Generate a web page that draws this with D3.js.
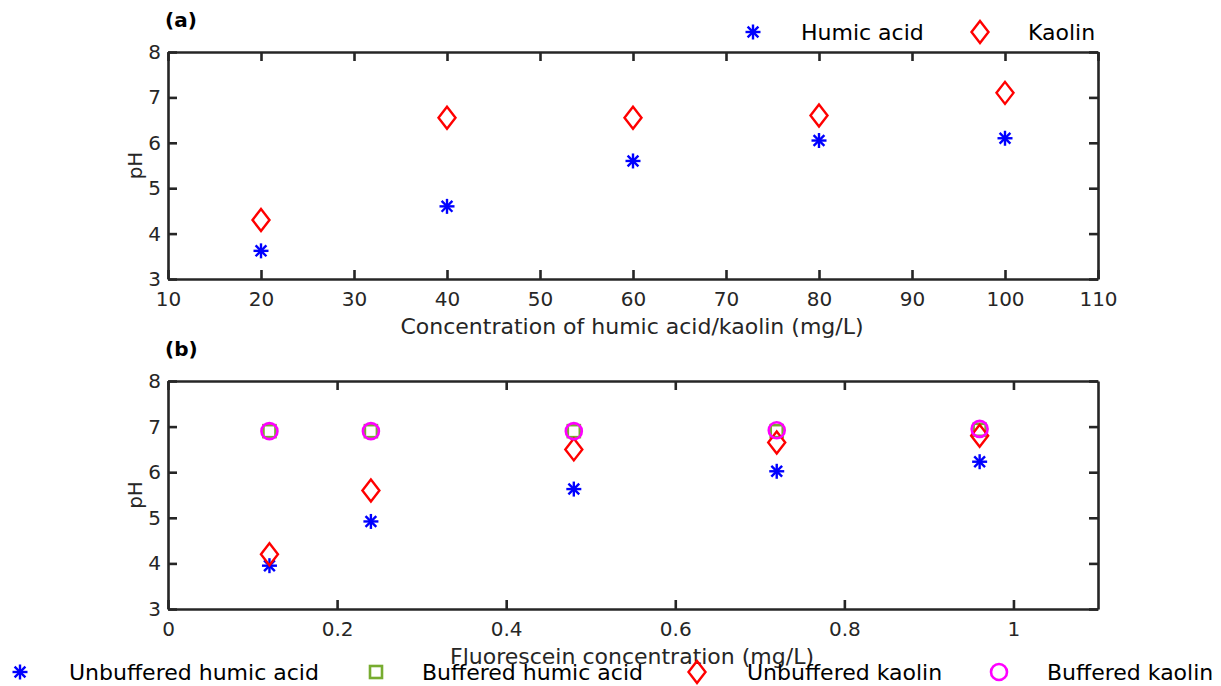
<!DOCTYPE html>
<html>
<head>
<meta charset="utf-8">
<script src="https://cdn.jsdelivr.net/npm/d3@7"></script>
<style>
  body { margin: 0; background: #fff; }
  text { font-family: "DejaVu Sans", sans-serif; }
</style>
</head>
<body>
<svg id="chart" width="1221" height="686"></svg>
<script>
// panel (a)
const concA = [20, 40, 60, 80, 100];
const humicA = [3.62, 4.6, 5.6, 6.05, 6.1];
const kaolinA = [4.3, 6.55, 6.55, 6.6, 7.1];
const ticksXA = [10, 20, 30, 40, 50, 60, 70, 80, 90, 100, 110];

// panel (b)
const concB = [0.12, 0.24, 0.48, 0.72, 0.96];
const unbufHumicB = [3.95, 4.92, 5.63, 6.02, 6.23];
const bufHumicB = [6.9, 6.9, 6.9, 6.9, 6.93];
const unbufKaolinB = [4.2, 5.6, 6.5, 6.65, 6.8];
const bufKaolinB = [6.9, 6.9, 6.9, 6.92, 6.95];
const ticksXB = [0, 0.2, 0.4, 0.6, 0.8, 1];
const ticksY = [3, 4, 5, 6, 7, 8];

const svg = d3.select("#chart");
const axisColor = "#262626";

function star(g, x, y, color) {
  const s = 7.5;
  const p = g.append("g").attr("transform", "translate(" + x + "," + y + ")")
    .attr("stroke", color).attr("stroke-width", 2.4);
  p.append("line").attr("x1", -s).attr("x2", s).attr("y1", 0).attr("y2", 0);
  p.append("line").attr("x1", 0).attr("x2", 0).attr("y1", -s).attr("y2", s);
  const d = s * 0.72;
  p.append("line").attr("x1", -d).attr("x2", d).attr("y1", -d).attr("y2", d);
  p.append("line").attr("x1", -d).attr("x2", d).attr("y1", d).attr("y2", -d);
}
function diamond(g, x, y, color) {
  g.append("path")
    .attr("d", "M" + x + "," + (y - 11) + "L" + (x + 8.5) + "," + y + "L" + x + "," + (y + 11) + "L" + (x - 8.5) + "," + y + "Z")
    .attr("fill", "none").attr("stroke", color).attr("stroke-width", 2.4);
}
function square(g, x, y, color) {
  g.append("rect").attr("x", x - 6).attr("y", y - 6).attr("width", 12).attr("height", 12)
    .attr("fill", "none").attr("stroke", color).attr("stroke-width", 2.6);
}
function circle(g, x, y, color) {
  g.append("circle").attr("cx", x).attr("cy", y).attr("r", 8)
    .attr("fill", "none").attr("stroke", color).attr("stroke-width", 2.6);
}

function panel(top, bottom, xDomain, xTicks, xFmt, label, xLabel, series) {
  const left = 168, right = 1098;
  const x = d3.scaleLinear().domain(xDomain).range([left, right]);
  const y = d3.scaleLinear().domain([3, 8]).range([bottom, top]);
  const g = svg.append("g");

  const gx = g.append("g").attr("transform", "translate(0," + bottom + ")")
    .call(d3.axisBottom(x).tickValues(xTicks).tickFormat(xFmt).tickSizeInner(-9).tickSizeOuter(0).tickPadding(13));
  const gxt = g.append("g").attr("transform", "translate(0," + top + ")")
    .call(d3.axisTop(x).tickValues(xTicks).tickFormat("").tickSizeInner(-9).tickSizeOuter(0));
  const gy = g.append("g").attr("transform", "translate(" + left + ",0)")
    .call(d3.axisLeft(y).tickValues(ticksY).tickFormat(d3.format("d")).tickSizeInner(-9).tickSizeOuter(0).tickPadding(7));
  const gyr = g.append("g").attr("transform", "translate(" + right + ",0)")
    .call(d3.axisRight(y).tickValues(ticksY).tickFormat("").tickSizeInner(-9).tickSizeOuter(0));
  [gx, gxt, gy, gyr].forEach(a => {
    a.selectAll("path.domain").attr("stroke", axisColor).attr("stroke-width", 2.6);
    a.selectAll(".tick line").attr("stroke", axisColor).attr("stroke-width", 2.6);
    a.selectAll(".tick text").attr("fill", axisColor).style("font-size", "20px")
      .style("font-family", "'DejaVu Sans', sans-serif");
  });

  g.append("text").attr("x", 165).attr("y", top - 25).style("font-size", "20px")
    .style("font-weight", "bold").attr("fill", "#000").text(label);
  g.append("text").attr("transform", "translate(142," + ((top + bottom) / 2) + ") rotate(-90)")
    .attr("text-anchor", "middle").style("font-size", "20px").attr("fill", axisColor).text("pH");
  g.append("text").attr("x", 632).attr("y", bottom + 55)
    .attr("text-anchor", "middle").style("font-size", "22px").attr("fill", axisColor).text(xLabel);

  series.forEach(s => {
    s.values.forEach((v, i) => s.draw(g, x(s.xs[i]), y(v), s.color));
  });
}

panel(52, 279, [10, 110], ticksXA, d3.format("d"), "(a)",
  "Concentration of humic acid/kaolin (mg/L)", [
    { xs: concA, values: kaolinA, draw: diamond, color: "#ff0000" },
    { xs: concA, values: humicA, draw: star, color: "#0000ff" }
  ]);

panel(381, 609, [0, 1.1], ticksXB, d => d === 0 || d === 1 ? d : d.toFixed(1), "(b)",
  "Fluorescein concentration (mg/L)", [
    { xs: concB, values: unbufHumicB, draw: star, color: "#0000ff" },
    { xs: concB, values: bufHumicB, draw: square, color: "#77ac30" },
    { xs: concB, values: unbufKaolinB, draw: diamond, color: "#ff0000" },
    { xs: concB, values: bufKaolinB, draw: circle, color: "#ff00ff" }
  ]);

// legends
const legA = [
  { name: "Humic acid", draw: star, color: "#0000ff", mx: 753, tx: 801 },
  { name: "Kaolin", draw: diamond, color: "#ff0000", mx: 980, tx: 1028 }
];
const legB = [
  { name: "Unbuffered humic acid", draw: star, color: "#0000ff", mx: 20, tx: 69 },
  { name: "Buffered humic acid", draw: square, color: "#77ac30", mx: 376, tx: 422 },
  { name: "Unbuffered kaolin", draw: diamond, color: "#ff0000", mx: 697, tx: 747 },
  { name: "Buffered kaolin", draw: circle, color: "#ff00ff", mx: 999, tx: 1047 }
];
function legend(items, yy) {
  const g = svg.append("g");
  items.forEach(it => {
    it.draw(g, it.mx, yy, it.color);
    g.append("text").attr("x", it.tx).attr("y", yy).attr("dy", "0.36em")
      .style("font-size", "22px").attr("fill", "#000").text(it.name);
  });
}
legend(legA, 32);
legend(legB, 672);
</script>
</body>
</html>
